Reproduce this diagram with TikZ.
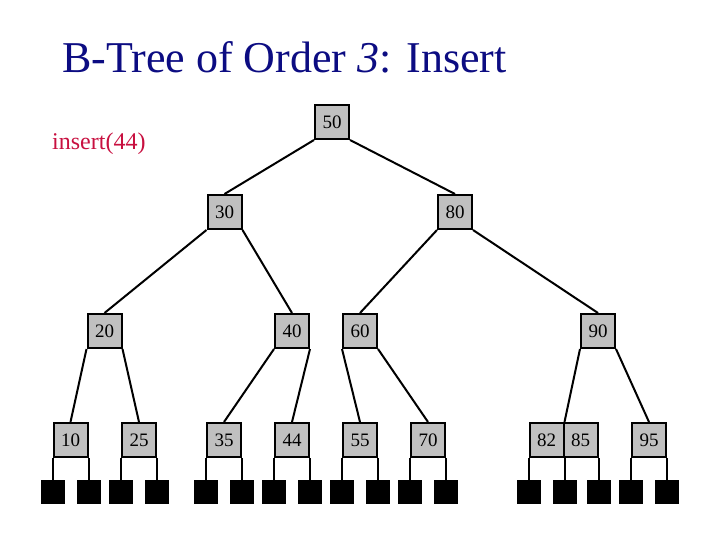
\documentclass[tikz,border=0pt]{standalone}
\usepackage{fontspec}
\setmainfont{Liberation Serif}
\usetikzlibrary{positioning}
\definecolor{titleblue}{RGB}{12,12,130}
\definecolor{insred}{RGB}{200,16,64}
\definecolor{boxgray}{RGB}{192,192,192}
\tikzset{
  keybox/.style={draw, fill=boxgray, minimum width=34pt, minimum height=34pt, inner sep=0pt, line width=2pt, font=\fontsize{19}{19}\selectfont},
  leaf/.style={fill=black, minimum size=24pt, inner sep=0pt},
  link/.style={line width=2pt},
}
\begin{document}
\begin{tikzpicture}[x=1pt,y=-1pt]
\useasboundingbox (0,0) rectangle (720,540);
\node[anchor=base west, text=titleblue, font=\fontsize{44}{44}\selectfont, inner sep=0pt] (title) at (62,73) {B-Tree of Order \textit{3}: Insert};
\node[anchor=base west, text=insred, font=\fontsize{24}{24}\selectfont, inner sep=0pt] (ins) at (52,150) {insert(44)};
% keys
\node[keybox] (k50) at (332,122) {50};
\node[keybox] (k30) at (224.5,212) {30};
\node[keybox] (k80) at (455,212) {80};
\node[keybox] (k20) at (104.5,331) {20};
\node[keybox] (k40) at (292,331) {40};
\node[keybox] (k60) at (360,331) {60};
\node[keybox] (k90) at (598,331) {90};
\node[keybox] (k10) at (70.5,440) {10};
\node[keybox] (k25) at (139,440) {25};
\node[keybox] (k35) at (224,440) {35};
\node[keybox] (k44) at (292,440) {44};
\node[keybox] (k55) at (360,440) {55};
\node[keybox] (k70) at (428,440) {70};
\node[keybox] (k82) at (546.5,440) {82};
\node[keybox] (k85) at (580.5,440) {85};
\node[keybox] (k95) at (649,440) {95};
% internal links
\draw[link] (k50.south west) -- (k30.north);
\draw[link] (k50.south east) -- (k80.north);
\draw[link] (k30.south west) -- (k20.north);
\draw[link] (k30.south east) -- (k40.north);
\draw[link] (k80.south west) -- (k60.north);
\draw[link] (k80.south east) -- (k90.north);
\draw[link] (k20.south west) -- (k10.north);
\draw[link] (k20.south east) -- (k25.north);
\draw[link] (k40.south west) -- (k35.north);
\draw[link] (k40.south east) -- (k44.north);
\draw[link] (k60.south west) -- (k55.north);
\draw[link] (k60.south east) -- (k70.north);
\draw[link] (k90.south west) -- (k82.north east);
\draw[link] (k90.south east) -- (k95.north);
% leaves
\foreach \k/\a/\b in {k10/l1/l2, k25/l3/l4, k35/l5/l6, k44/l7/l8, k55/l9/l10, k70/l11/l12, k95/l14/l15}{
  \node[leaf, below=22pt of \k.south west] (\a) {};
  \node[leaf, below=22pt of \k.south east] (\b) {};
  \draw[link] (\k.south west) -- (\a.north);
  \draw[link] (\k.south east) -- (\b.north);
}
\node[leaf, below=22pt of k82.south west] (m1) {};
\node[leaf, below=22pt of k82.south east] (m2) {};
\node[leaf, below=22pt of k85.south east] (m3) {};
\draw[link] (k82.south west) -- (m1.north);
\draw[link] (k82.south east) -- (m2.north);
\draw[link] (k85.south east) -- (m3.north);
\end{tikzpicture}
\end{document}
